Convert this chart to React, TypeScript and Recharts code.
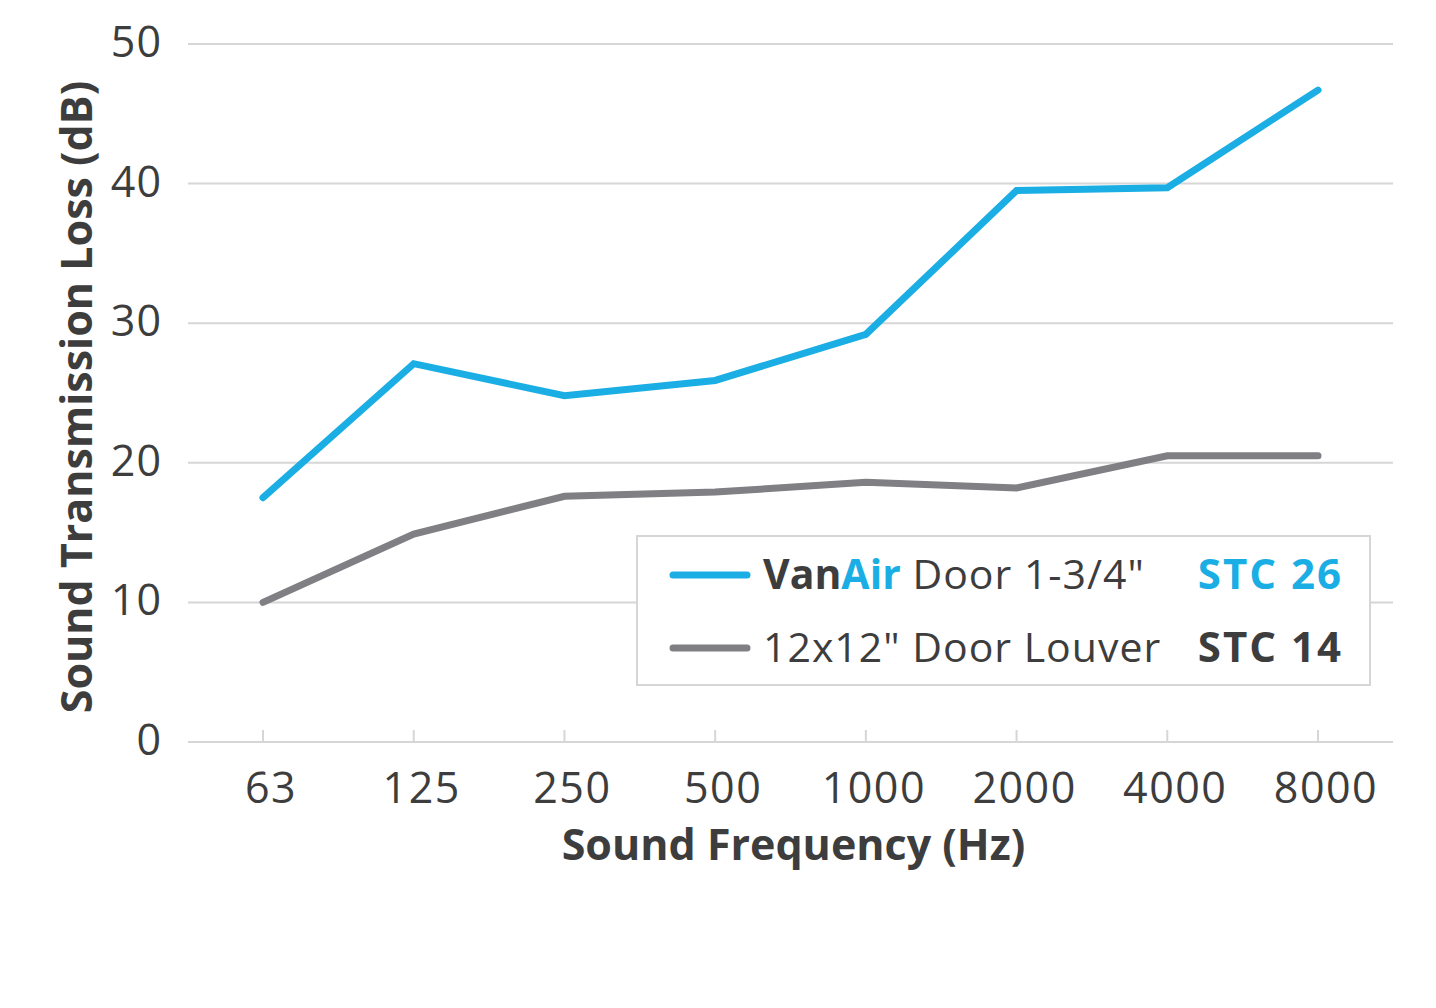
import React from 'react';
import { LineChart, Line, XAxis, YAxis, CartesianGrid, Legend } from 'recharts';

const frequencies = ['63', '125', '250', '500', '1000', '2000', '4000', '8000'];
const vanAirLoss = [17.5, 27.1, 24.8, 25.9, 29.2, 39.5, 39.7, 46.7];
const louverLoss = [10.0, 14.9, 17.6, 17.9, 18.6, 18.2, 20.5, 20.5];
const yTicks = [0, 10, 20, 30, 40, 50];
const seriesKeys = ['vanair', 'louver'];
const brandParts = ['Van', 'Air'];
const seriesLabels = [' Door 1-3/4"', '12x12" Door Louver'];
const stcRatings = ['STC 26', 'STC 14'];

const data = frequencies.map((f, i) => ({ freq: f, vanair: vanAirLoss[i], louver: louverLoss[i] }));

const FONT = '"Open Sans", Lato, sans-serif';
const TEXT = '#3d3d3d';
const BLUE = '#1aaee4';
const GRAY = '#7f7f84';
const GRID = '#d6d6d6';

const XTick = (props: any) => {
  const { x, y, payload } = props;
  return (
    <g>
      <line x1={x} x2={x} y1={y - 12} y2={y} stroke={GRID} strokeWidth={2} />
      <text x={x + 8} y={y + 61} textAnchor="middle" fill={TEXT} fontSize={43} letterSpacing={1.5} fontFamily={FONT}>
        {payload.value}
      </text>
    </g>
  );
};

const YTick = (props: any) => {
  const { x, y, payload } = props;
  return (
    <text x={x} y={y + 13} textAnchor="end" fill={TEXT} fontSize={43} letterSpacing={1} fontFamily={FONT}>
      {payload.value}
    </text>
  );
};

const YTitle = (props: any) => {
  const vb = props.viewBox || {};
  const cx = 67;
  const cy = vb.y + vb.height / 2 + 4;
  return (
    <text
      x={cx}
      y={cy}
      transform={`rotate(-90, ${cx}, ${cy})`}
      textAnchor="middle"
      dominantBaseline="central"
      fill={TEXT}
      fontSize={43}
      fontWeight={700}
      fontFamily={FONT}
    >
      Sound Transmission Loss (dB)
    </text>
  );
};

const XTitle = (props: any) => {
  const vb = props.viewBox || {};
  const cx = vb.x + vb.width / 2 + 3;
  return (
    <text x={cx} y={vb.y + 118} textAnchor="middle" fill={TEXT} fontSize={43} fontWeight={700} fontFamily={FONT}>
      Sound Frequency (Hz)
    </text>
  );
};

const LegendBox = (props: any) => {
  const payload = props.payload || [];
  const rowY = [40, 113];
  return (
    <svg width={735} height={151} style={{ display: 'block' }}>
      <rect x={1} y={1} width={733} height={149} fill="#fff" stroke={GRID} strokeWidth={2} />
      {seriesKeys.map((key, i) => {
        const entry = payload.find((p: any) => p.dataKey === key) || {};
        return (
          <g key={key}>
            <line x1={37} x2={111} y1={rowY[i]} y2={rowY[i]} stroke={entry.color} strokeWidth={7} strokeLinecap="round" />
            <text x={127} y={rowY[i] + 14} fill={TEXT} fontSize={41} letterSpacing={1} fontFamily={FONT}>
              {i === 0 ? (
                <>
                  <tspan fontWeight={700} letterSpacing={0}>{brandParts[0]}</tspan>
                  <tspan fontWeight={700} letterSpacing={0} fill={BLUE}>{brandParts[1]}</tspan>
                </>
              ) : null}
              <tspan>{seriesLabels[i]}</tspan>
            </text>
            <text
              x={707}
              y={rowY[i] + 14}
              textAnchor="end"
              fill={i === 0 ? BLUE : TEXT}
              fontSize={42}
              letterSpacing={2}
              fontWeight={700}
              fontFamily={FONT}
            >
              {stcRatings[i]}
            </text>
          </g>
        );
      })}
    </svg>
  );
};

export default function App() {
  return (
    <LineChart
      width={1420}
      height={990}
      data={data}
      margin={{ top: 36, right: 35, bottom: 136, left: 80 }}
      style={{ fontFamily: FONT }}
    >
      <CartesianGrid vertical={false} stroke={GRID} strokeWidth={2} />
      <XAxis
        dataKey="freq"
        interval={0}
        padding={{ left: 75, right: 75 }}
        axisLine={{ stroke: GRID, strokeWidth: 2 }}
        tickLine={false}
        tickSize={0}
        tickMargin={0}
        height={120}
        tick={<XTick />}
        label={<XTitle />}
      />
      <YAxis
        domain={[0, 50]}
        ticks={yTicks}
        width={100}
        axisLine={false}
        tickLine={false}
        tickSize={0}
        tickMargin={26}
        tick={<YTick />}
        label={<YTitle />}
      />
      <Legend
        layout="horizontal"
        verticalAlign="middle"
        align="center"
        content={<LegendBox />}
        wrapperStyle={{ position: 'absolute', left: 628, top: 527, width: 735, height: 151 }}
      />
      <Line
        type="linear"
        dataKey="vanair"
        name='VanAir Door 1-3/4"'
        stroke={BLUE}
        strokeWidth={7}
        strokeLinecap="round"
        dot={false}
        activeDot={false}
        isAnimationActive={false}
      />
      <Line
        type="linear"
        dataKey="louver"
        name='12x12" Door Louver'
        stroke={GRAY}
        strokeWidth={7}
        strokeLinecap="round"
        dot={false}
        activeDot={false}
        isAnimationActive={false}
      />
    </LineChart>
  );
}
